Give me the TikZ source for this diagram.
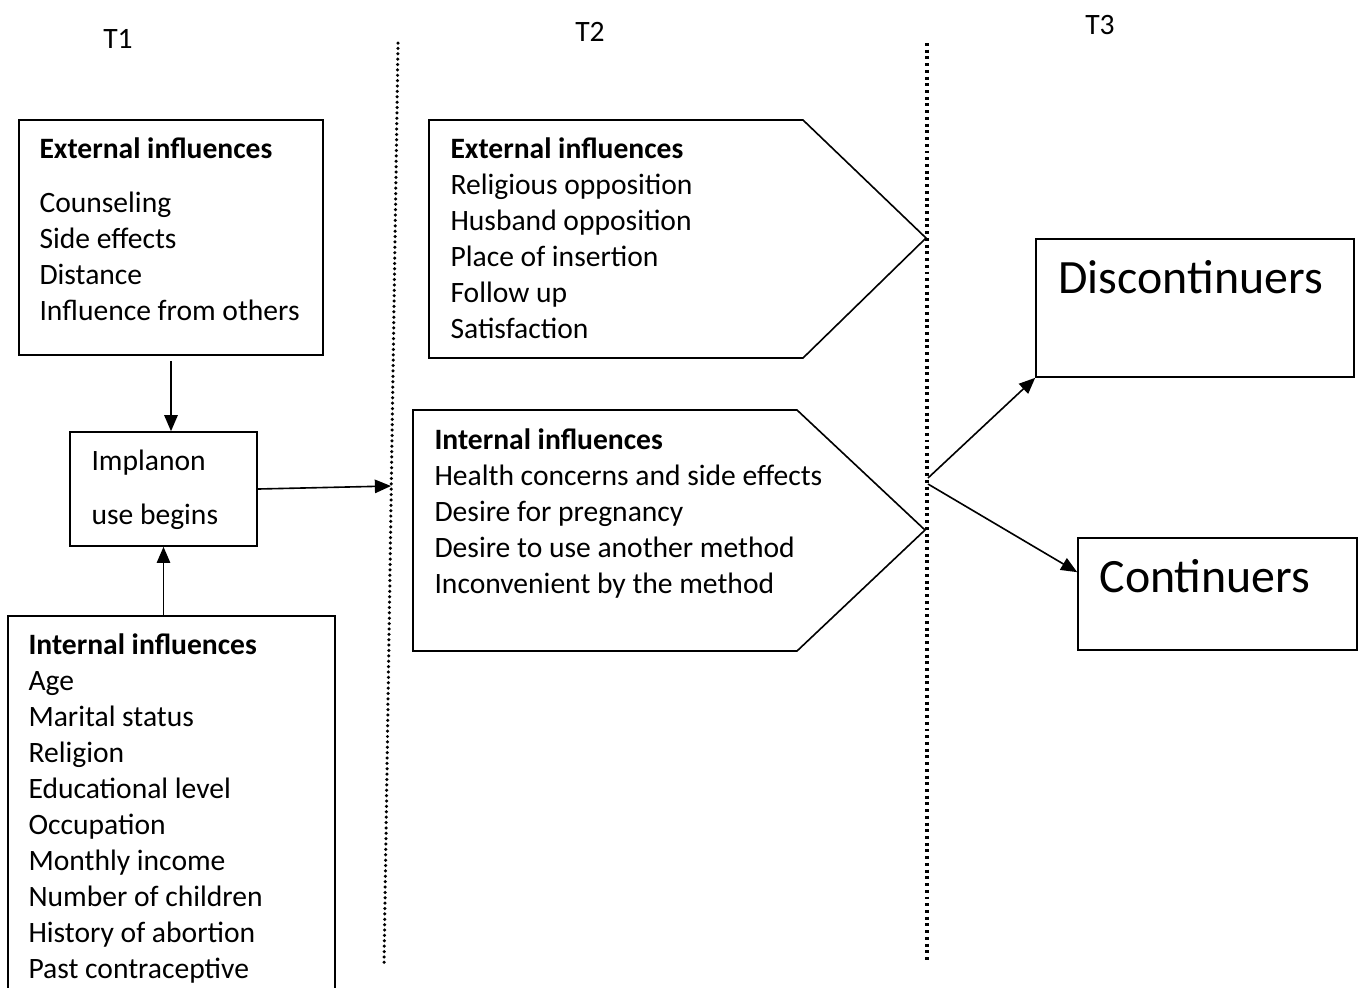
\documentclass[tikz,border=0pt]{standalone}
\usepackage{fontspec}
\setmainfont{Carlito}
\usetikzlibrary{arrows.meta,fit}

\begin{document}
\begin{tikzpicture}[x=0.372pt,y=-0.372pt,
  frame/.style={draw,line width=0.6pt,inner sep=0pt},
  lbl/.style={font=\fontsize{11}{13.4}\selectfont,align=left,anchor=north west,inner sep=0pt},
  big/.style={font=\fontsize{17.8}{21}\selectfont,anchor=base west,inner sep=0pt},
  flow/.style={line width=0.6pt,-{Triangle[length=6pt,width=5pt]}}]
\useasboundingbox (0,0) rectangle (1359,987);
\clip (0,0) rectangle (1359,987);

% time points
\node[lbl,anchor=base] (t1) at (118,48) {T1};
\node[lbl,anchor=base] (t2) at (590,41) {T2};
\node[lbl,anchor=base] (t3) at (1100,34) {T3};

% borders between the phases
\draw[line width=1.3pt,line cap=round,dash pattern=on 0pt off 2pt] (398,43) -- (384,967);
\draw[line width=1.2pt,dash pattern=on 1.1pt off 1.4pt] (927,43) -- (927,963);

% T1
\node[frame,fit={(19,120) (323,355)}] (ext1) {};
\node[lbl] (ext1txt) at (39,133) {\strut\textbf{External influences}\\[6.7pt]
  Counseling\\ Side effects\\ Distance\\ Influence from others};
\node[frame,fit={(70,432) (257,546)}] (impl) {};
\node[lbl] (impltxt) at (91,445) {\strut Implanon\\[6.7pt] use begins};
\node[frame,fit={(8,616) (335,1010)}] (int1) {};
\node[lbl] (int1txt) at (28,629) {\strut\textbf{Internal influences}\\ Age\\ Marital status\\
  Religion\\ Educational level\\ Occupation\\ Monthly income\\ Number of children\\
  History of abortion\\ Past contraceptive};

% T2
\draw[line width=0.6pt] (429,120) -- (803,120) -- (926,238) -- (803,358) -- (429,358) -- cycle;
\node[lbl] (ext2txt) at (450,133) {\strut\textbf{External influences}\\ Religious opposition\\
  Husband opposition\\ Place of insertion\\ Follow up\\ Satisfaction};
\draw[line width=0.6pt] (413,410) -- (797,410) -- (925,530) -- (797,651) -- (413,651) -- cycle;
\node[lbl] (int2txt) at (434,424) {\strut\textbf{Internal influences}\\ Health concerns and side effects\\
  Desire for pregnancy\\ Desire to use another method\\ Inconvenient by the method};

% T3
\node[frame,fit={(1036,239) (1354,377)}] (disc) {};
\node[big] (disctxt) at (1058,293) {Discontinuers};
\node[frame,fit={(1078,538) (1357,650)}] (cont) {};
\node[big] (conttxt) at (1099,592) {Continuers};

% arrows
\coordinate (gate) at (391,486);
\coordinate (forkA) at (928,478);
\coordinate (forkB) at (928,484);
\draw[flow,shorten <=1.9pt] (ext1.south) -- (ext1.south |- impl.north);
\draw[flow] (impl.south |- int1.north) -- (impl.south);
\draw[flow] (impl.east) -- (gate);
\draw[flow] (forkA) -- (disc.south west);
\draw[flow] (forkB) -- ([yshift=-13pt]cont.north west);
\end{tikzpicture}
\end{document}
